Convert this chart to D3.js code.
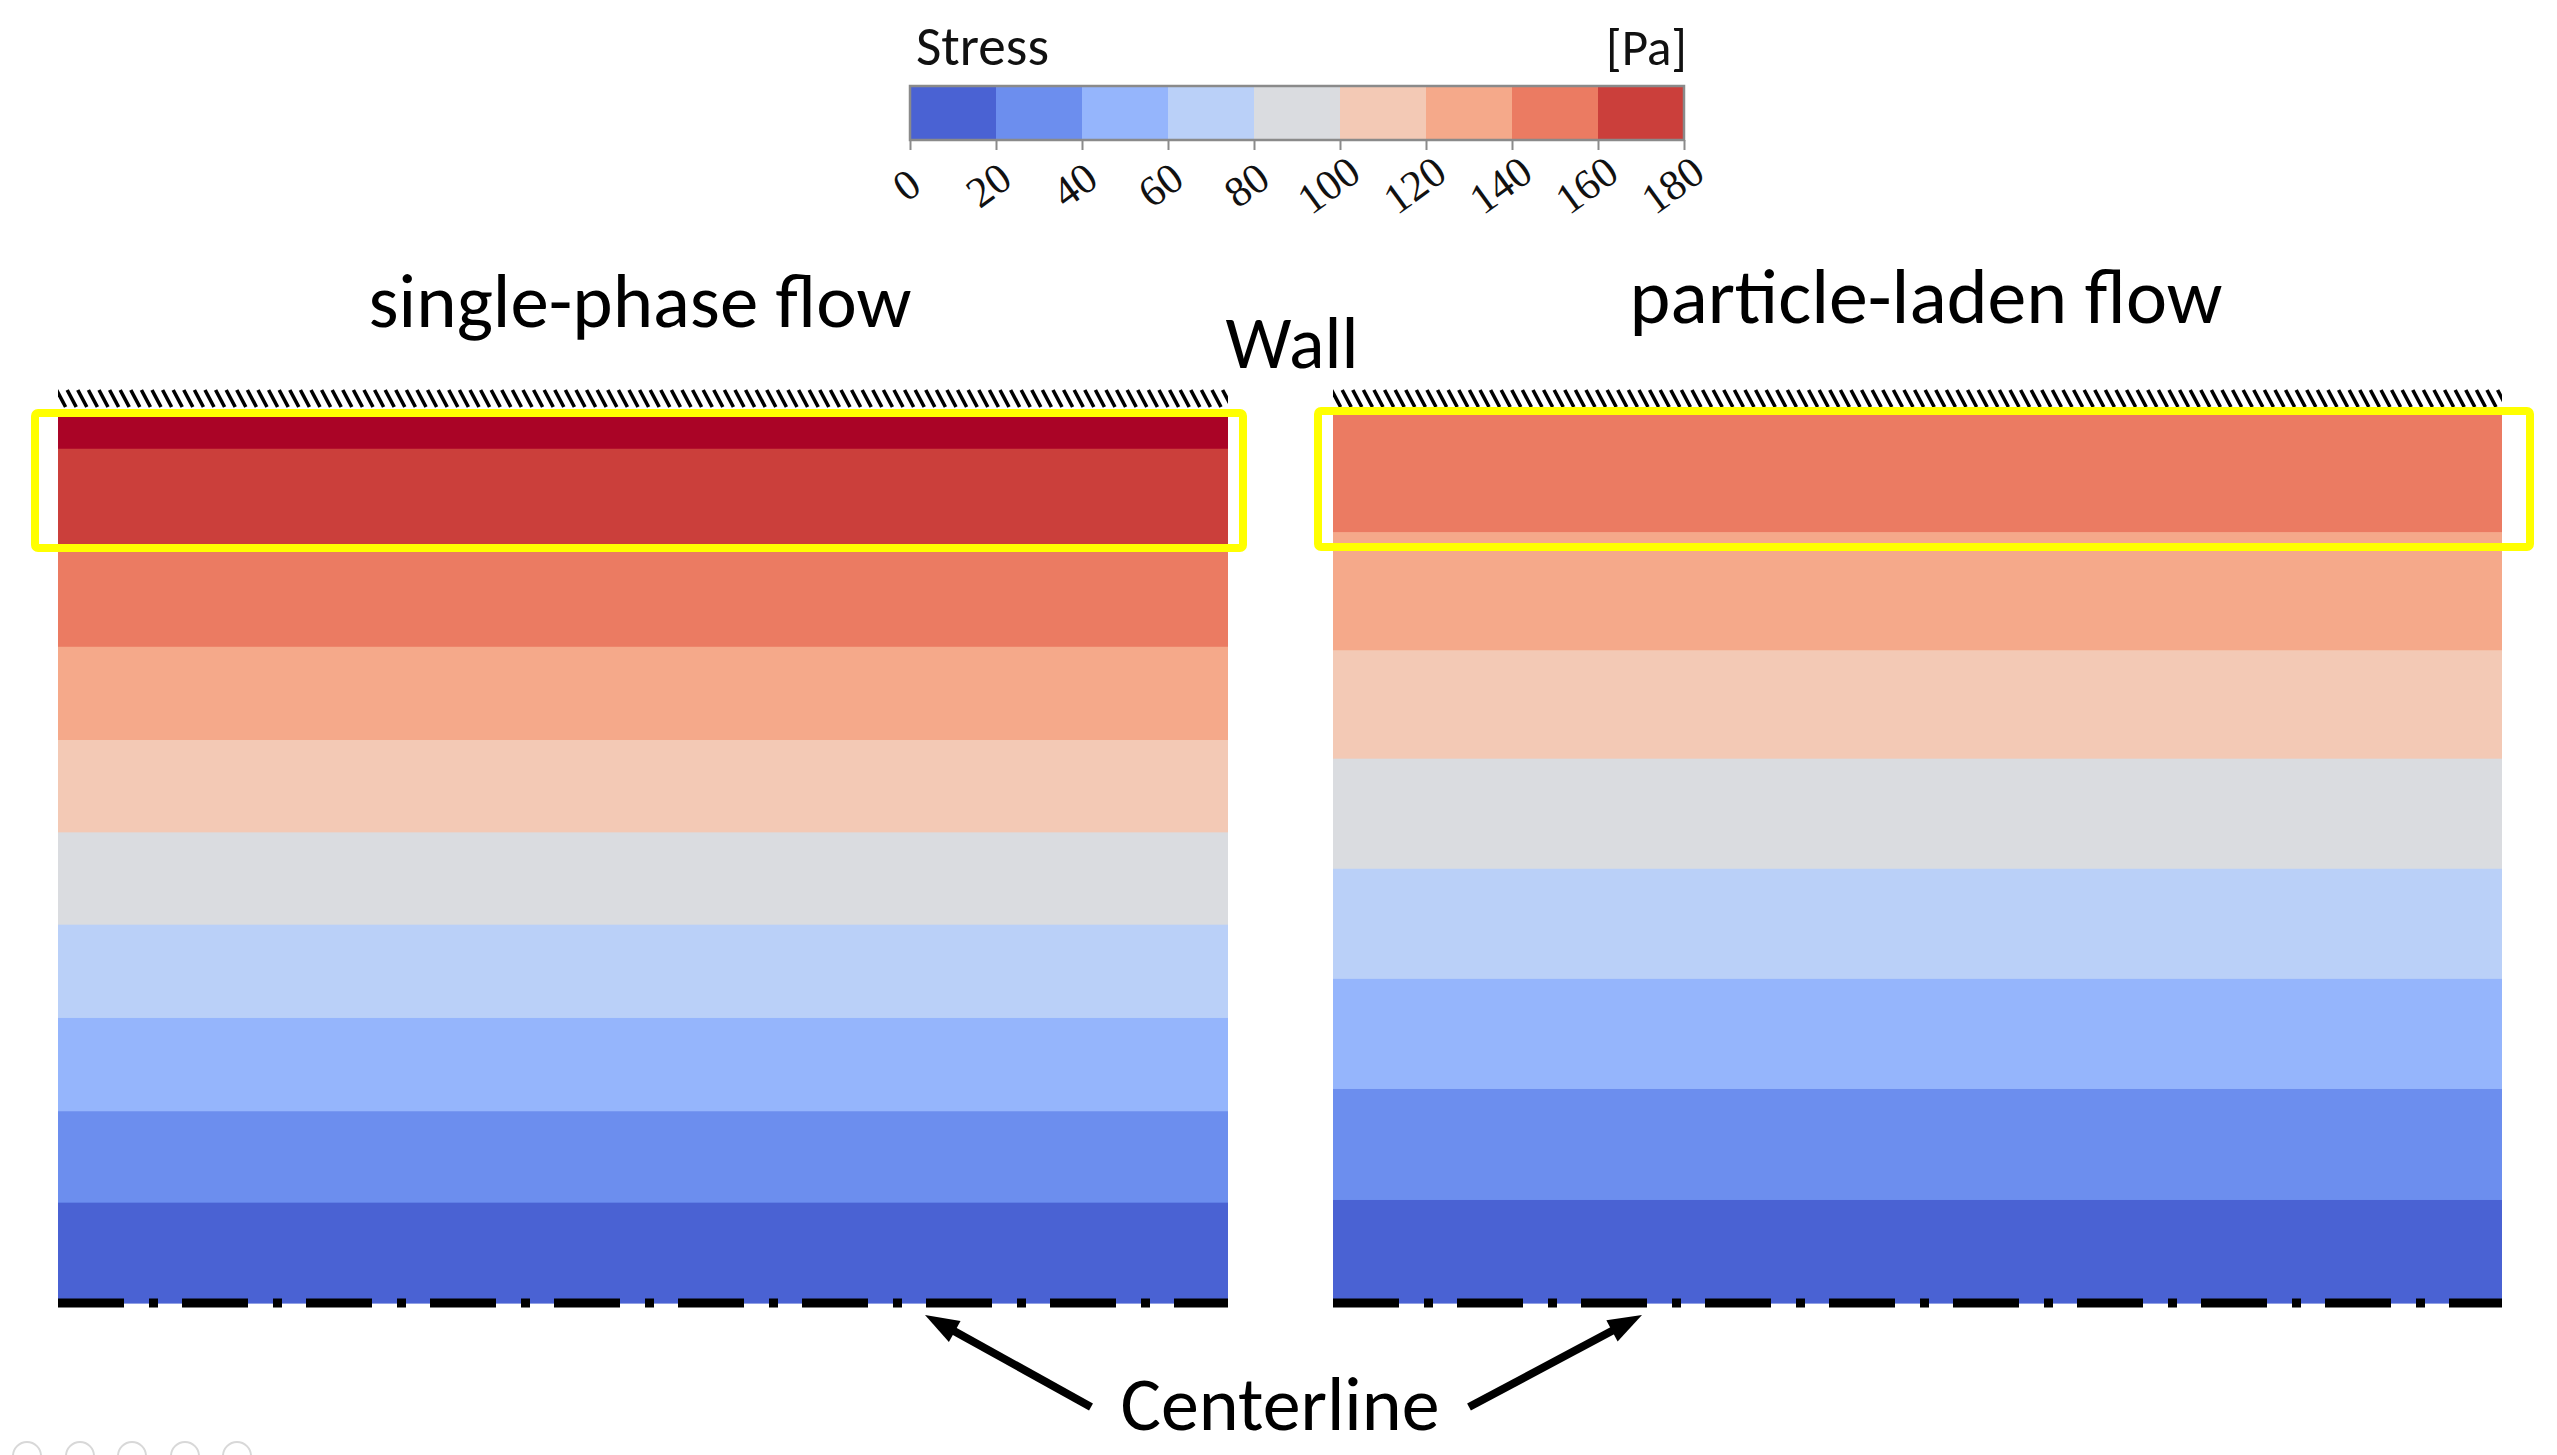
<!DOCTYPE html>
<html>
<head>
<meta charset="utf-8">
<script src="https://cdn.jsdelivr.net/npm/d3@7"></script>
<style>
  html, body { margin: 0; padding: 0; background: #ffffff; }
  svg { display: block; }
</style>
</head>
<body>
<script>
// ---------------- DATA ----------------
// Colour-bar levels (Pa)
const stressTicks = [0, 20, 40, 60, 80, 100, 120, 140, 160, 180];
const bandColors = ['#4A62D3', '#6C8EEE', '#95B5FC', '#BAD0F8', '#DADCE0',
                    '#F3C9B5', '#F5A98A', '#EB7B62', '#CB3F3B'];
const overColor = '#AA0426';           // stress above 180 Pa

// Band edges, as normalised distance from the wall (0 = wall, 1 = centerline)
const singlePhaseEdges = [0, 0.038, 0.154, 0.261, 0.366, 0.470, 0.574, 0.679, 0.784, 0.887, 1.0];
// Representative stress in each band (Pa), wall -> centerline
const singlePhaseStress = [190, 170, 150, 130, 110, 90, 70, 50, 30, 10];

const particleEdges = [0, 0.132, 0.265, 0.387, 0.511, 0.635, 0.759, 0.884, 1.0];
const particleStress = [150, 130, 110, 90, 70, 50, 30, 10];

const panelTitles = ['single-phase flow', 'particle-laden flow'];

// ---------------- DRAW ----------------
function draw() {
  const W = 2557, H = 1455;
  const svg = d3.select('body').append('svg')
      .attr('width', W).attr('height', H)
      .attr('viewBox', `0 0 ${W} ${H}`);
  svg.append('rect').attr('width', W).attr('height', H).attr('fill', '#ffffff');

  const sansFont = "Carlito, Calibri, Lato, 'Open Sans', sans-serif";
  const serifFont = "'Liberation Serif', 'DejaVu Serif', serif";

  const color = d3.scaleThreshold()
      .domain(stressTicks.slice(1))
      .range(bandColors.concat([overColor]));

  function fit(sel, targetW) {
    const n = sel.node();
    const fs = parseFloat(sel.attr('font-size'));
    const w = n.getComputedTextLength();
    if (w > 0) sel.attr('font-size', fs * targetW / w);
    return sel;
  }

  // ----- colour bar -----
  const cb = { x0: 910, x1: 1684, y0: 86, y1: 140 };
  const cx = d3.scaleLinear().domain([0, 180]).range([cb.x0, cb.x1]);
  const cbG = svg.append('g');
  cbG.selectAll('rect.cb')
    .data(stressTicks.slice(0, -1))
    .join('rect')
      .attr('class', 'cb')
      .attr('x', d => cx(d))
      .attr('y', cb.y0)
      .attr('width', d => cx(d + 20) - cx(d) + 0.5)
      .attr('height', cb.y1 - cb.y0)
      .attr('fill', d => color(d + 10));
  cbG.append('rect')
      .attr('x', cb.x0).attr('y', cb.y0)
      .attr('width', cb.x1 - cb.x0).attr('height', cb.y1 - cb.y0)
      .attr('fill', 'none').attr('stroke', '#8a8a8a').attr('stroke-width', 2.5);

  const axis = d3.axisBottom(cx).tickValues(stressTicks).tickSize(10).tickFormat(d3.format('d'));
  const axG = svg.append('g').attr('transform', `translate(0,${cb.y1})`).call(axis);
  axG.select('.domain').remove();
  axG.selectAll('.tick line').attr('stroke', '#8a8a8a').attr('stroke-width', 2);
  axG.selectAll('.tick text')
      .attr('font-family', serifFont)
      .attr('font-size', 43)
      .attr('fill', '#111')
      .attr('text-anchor', 'middle')
      .attr('dominant-baseline', 'central')
      .attr('y', 0).attr('dy', null)
      .attr('transform', d => `translate(${-4 - (String(d).length - 1) * 4},45) rotate(-36)`);

  const stressLbl = svg.append('text').text('Stress')
      .attr('x', 916).attr('y', 65)
      .attr('font-family', sansFont).attr('font-size', 50).attr('fill', '#111');
  fit(stressLbl, 133);
  const unitLbl = svg.append('text').text('[Pa]')
      .attr('x', 1687).attr('y', 65).attr('text-anchor', 'end')
      .attr('font-family', sansFont).attr('font-size', 50).attr('fill', '#111');
  fit(unitLbl, 81);

  // ----- panels -----
  const panels = [
    { x0: 58,   x1: 1228, edges: singlePhaseEdges, stress: singlePhaseStress,
      title: panelTitles[0], tx: 640, ty: 327, tw: 543,
      box: { x0: 35, x1: 1243, y0: 413, y1: 548 } },
    { x0: 1333, x1: 2502, edges: particleEdges, stress: particleStress,
      title: panelTitles[1], tx: 1926, ty: 323, tw: 593,
      box: { x0: 1318, x1: 2530, y0: 411, y1: 547 } }
  ];
  const yTop = 415, yBot = 1303;
  const y = d3.scaleLinear().domain([0, 1]).range([yTop, yBot]);

  const defs = svg.append('defs');

  panels.forEach((p, i) => {
    const x = d3.scaleLinear().domain([0, 1]).range([p.x0, p.x1]);
    const g = svg.append('g');

    const bands = p.stress.map((s, k) => ({ s, a: p.edges[k], b: p.edges[k + 1] }));
    g.selectAll('rect.band')
      .data(bands)
      .join('rect')
        .attr('class', 'band')
        .attr('x', x(0))
        .attr('width', x(1) - x(0))
        .attr('y', d => y(d.a))
        .attr('height', d => y(d.b) - y(d.a) + 0.6)
        .attr('fill', d => color(d.s));

    // wall hatching
    defs.append('clipPath').attr('id', 'hclip' + i)
      .append('rect')
        .attr('x', x(0)).attr('y', 389)
        .attr('width', x(1) - x(0)).attr('height', 19);
    g.append('g').attr('clip-path', `url(#hclip${i})`)
      .selectAll('line')
      .data(d3.range(x(0) - 12, x(1) + 12, 10.6))
      .join('line')
        .attr('x1', d => d).attr('y1', 390)
        .attr('x2', d => d + 9).attr('y2', 407)
        .attr('stroke', '#000').attr('stroke-width', 3.6);

    // centerline
    g.append('line')
      .attr('x1', x(0)).attr('x2', x(1))
      .attr('y1', y(1)).attr('y2', y(1))
      .attr('stroke', '#000').attr('stroke-width', 9)
      .attr('stroke-dasharray', '66 25 9 24');

    // highlight box
    g.append('rect')
      .attr('x', p.box.x0).attr('y', p.box.y0)
      .attr('width', p.box.x1 - p.box.x0).attr('height', p.box.y1 - p.box.y0)
      .attr('rx', 3).attr('ry', 3)
      .attr('fill', 'none').attr('stroke', '#FFFF00').attr('stroke-width', 8);

    // title
    const t = svg.append('text').text(p.title)
      .attr('x', p.tx).attr('y', p.ty).attr('text-anchor', 'middle')
      .attr('font-family', sansFont).attr('font-size', 70).attr('fill', '#000');
    fit(t, p.tw);
  });

  // Wall label
  const wall = svg.append('text').text('Wall')
    .attr('x', 1292).attr('y', 368).attr('text-anchor', 'middle')
    .attr('font-family', sansFont).attr('font-size', 70).attr('fill', '#000');
  fit(wall, 133);

  // Centerline label + arrows
  const cl = svg.append('text').text('Centerline')
    .attr('x', 1280).attr('y', 1430).attr('text-anchor', 'middle')
    .attr('font-family', sansFont).attr('font-size', 76).attr('fill', '#000');
  fit(cl, 319);

  const arrows = [
    { from: [1091, 1407], to: [925, 1315] },
    { from: [1469, 1407], to: [1642, 1315] }
  ];
  arrows.forEach(a => {
    const dx = a.to[0] - a.from[0], dy = a.to[1] - a.from[1];
    const L = Math.hypot(dx, dy), ux = dx / L, uy = dy / L;
    const hl = 34, hw = 12;
    const bx = a.to[0] - ux * hl, by = a.to[1] - uy * hl;
    svg.append('line')
      .attr('x1', a.from[0]).attr('y1', a.from[1])
      .attr('x2', bx + ux * 4).attr('y2', by + uy * 4)
      .attr('stroke', '#000').attr('stroke-width', 8);
    svg.append('path')
      .attr('d', d3.line()([
        a.to,
        [bx - uy * hw, by + ux * hw],
        [bx + uy * hw, by - ux * hw]
      ]) + 'Z')
      .attr('fill', '#000');
  });

  // faint slide-navigation circles at bottom-left
  svg.append('g').selectAll('circle')
    .data([27, 80, 132, 185, 237])
    .join('circle')
      .attr('cx', d => d).attr('cy', 1456).attr('r', 14)
      .attr('fill', 'none').attr('stroke', '#d8d8d8').attr('stroke-width', 2);
}

if (document.fonts && document.fonts.ready) {
  document.fonts.ready.then(draw);
} else {
  draw();
}
</script>
</body>
</html>
